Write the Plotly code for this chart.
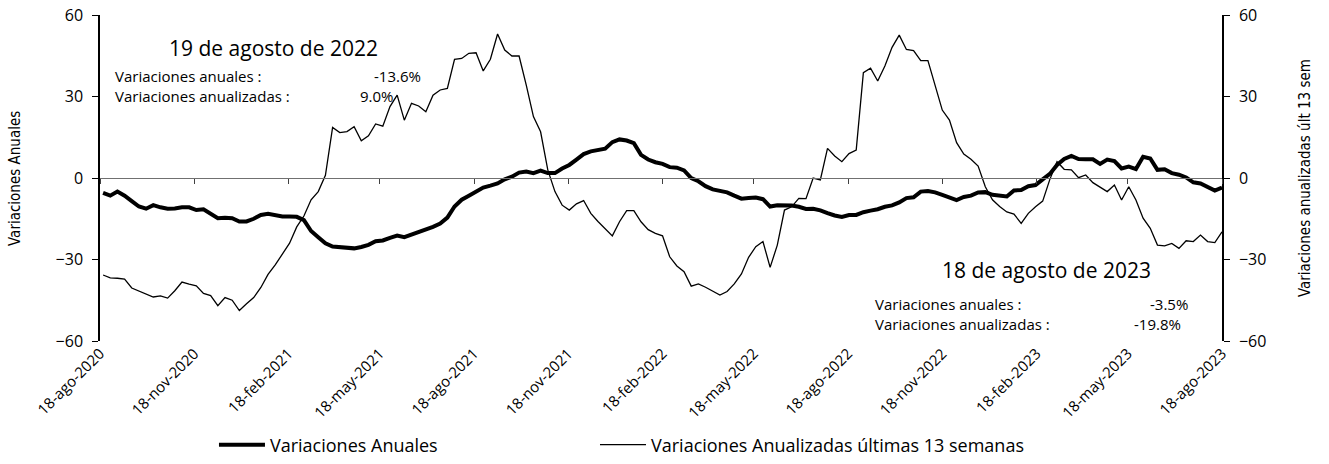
import pandas as pd
import plotly.graph_objects as go

# ---------------- data ----------------
start_date = "2020-08-21"   # first weekly observation (Fridays)
n_weeks = 157

variaciones_anuales = [
    -5.5, -6.5, -5.0, -6.5, -8.5, -10.5, -11.3, -10.0, -10.8, -11.3,
    -11.2, -10.8, -10.8, -11.8, -11.5, -13.0, -14.8, -14.6, -14.8, -16.0,
    -16.0, -15.0, -13.6, -13.2, -13.8, -14.2, -14.2, -14.3, -15.5, -19.5,
    -21.8, -24.0, -25.2, -25.4, -25.8, -25.9, -25.4, -24.6, -23.3, -23.0,
    -22.0, -21.2, -21.8, -20.8, -20.0, -19.2, -18.0, -16.8, -14.6, -10.5,
    -8.0, -6.5, -5.0, -3.5, -2.8, -2.0, -0.5, 0.5, 2.0, 2.4,
    1.8, 2.7, 1.8, 1.8, 3.5, 4.8, 6.8, 8.8, 9.8, 10.3,
    10.8, 13.2, 14.2, 13.8, 12.8, 8.5, 6.8, 5.8, 5.2, 4.0,
    3.8, 2.8, 0.0, -1.2, -3.0, -4.2, -4.8, -5.3, -6.5, -7.6,
    -7.4, -7.2, -7.8, -10.5, -10.0, -9.9, -10.1, -10.6, -11.4, -11.3,
    -11.9, -12.9, -13.8, -14.3, -13.6, -13.6, -12.6, -12.0, -11.5, -10.6,
    -10.1, -9.0, -7.4, -7.1, -5.0, -4.8, -5.3, -6.2, -7.2, -8.1,
    -7.0, -6.5, -5.3, -5.2, -6.2, -6.5, -6.8, -4.6, -4.4, -3.0,
    -2.6, -0.5, 1.5, 4.8, 7.0, 8.1, 7.0, 6.9, 6.9, 5.2,
    6.8, 6.2, 3.5, 4.2, 3.3, 7.8, 7.2, 3.0, 3.2, 1.8,
    1.2, 0.2, -1.6, -2.0, -3.2, -4.6, -3.5,
]

variaciones_anualizadas = [
    -35.7, -36.8, -36.9, -37.2, -40.5, -41.6, -42.5, -43.8, -43.4, -44.2,
    -41.5, -38.3, -39.1, -39.7, -42.5, -43.3, -47.0, -44.0, -45.0, -48.8,
    -46.3, -44.0, -40.3, -35.5, -32.0, -28.0, -24.0, -18.0, -14.0, -8.0,
    -5.0, 1.0, 18.6, 16.7, 17.1, 18.9, 13.7, 15.5, 19.9, 19.1,
    26.3, 30.5, 21.3, 27.5, 26.5, 24.4, 30.5, 32.4, 33.0, 43.7,
    44.0, 45.9, 46.1, 39.4, 43.7, 53.0, 47.1, 44.9, 44.9, 34.2,
    22.6, 17.0, 3.0, -5.0, -10.0, -11.8, -9.5, -8.3, -13.0, -16.0,
    -18.5, -21.3, -16.1, -12.0, -12.0, -16.1, -19.0, -20.4, -21.3, -29.0,
    -32.4, -34.5, -39.8, -39.0, -40.2, -41.8, -43.1, -41.8, -39.0, -35.3,
    -29.2, -25.3, -23.4, -32.9, -24.7, -11.8, -10.6, -7.5, -7.6, 0.0,
    -0.7, 10.9, 8.1, 6.0, 9.0, 10.3, 38.8, 40.4, 35.7, 41.2,
    48.1, 52.6, 47.3, 46.9, 43.2, 43.2, 34.2, 25.0, 21.3, 13.0,
    8.8, 6.9, 4.4, -3.2, -8.0, -10.5, -12.5, -13.3, -16.7, -13.0,
    -10.6, -8.5, -0.5, 6.0, 3.2, 3.0, 0.1, 1.1, -1.7, -3.2,
    -5.0, -2.6, -8.1, -3.2, -8.1, -14.8, -18.5, -24.7, -25.0, -24.1,
    -25.9, -23.1, -23.4, -21.0, -23.4, -23.8, -19.8,
]

tick_dates = ["2020-08-18", "2020-11-18", "2021-02-18", "2021-05-18", "2021-08-18",
              "2021-11-18", "2022-02-18", "2022-05-18", "2022-08-18", "2022-11-18",
              "2023-02-18", "2023-05-18", "2023-08-18"]
tick_labels = ["18-ago-2020", "18-nov-2020", "18-feb-2021", "18-may-2021", "18-ago-2021",
               "18-nov-2021", "18-feb-2022", "18-may-2022", "18-ago-2022", "18-nov-2022",
               "18-feb-2023", "18-may-2023", "18-ago-2023"]
y_ticks = [-60, -30, 0, 30, 60]

name_anual = "Variaciones Anuales"
name_anualizada = "Variaciones Anualizadas últimas 13 semanas"

box1_title = "19 de agosto de 2022"
box1_anual = "-13.6%"
box1_anualizada = "9.0%"
box2_title = "18 de agosto de 2023"
box2_anual = "-3.5%"
box2_anualizada = "-19.8%"

# ---------------- figure ----------------
dates = pd.date_range(start=start_date, periods=n_weeks, freq="7D")
x_range = [tick_dates[0], tick_dates[-1]]

FONT = "Open Sans, Lato, DejaVu Sans, sans-serif"
NARROW = "Liberation Sans Narrow, DejaVu Sans Condensed, Roboto Condensed, sans-serif"

fig = go.Figure()
fig.add_trace(go.Scatter(x=dates, y=variaciones_anuales, name=name_anual,
                         mode="lines", line=dict(color="black", width=4),
                         xaxis="x", yaxis="y", legend="legend"))
fig.add_trace(go.Scatter(x=dates, y=variaciones_anualizadas, name=name_anualizada,
                         mode="lines", line=dict(color="black", width=1.3),
                         xaxis="x", yaxis="y2", legend="legend2"))
# invisible helper trace so the zero-crossing axis is drawn
fig.add_trace(go.Scatter(x=dates, y=variaciones_anuales, mode="lines",
                         line=dict(color="rgba(0,0,0,0)", width=0),
                         showlegend=False, hoverinfo="skip",
                         xaxis="x2", yaxis="y"))

legend_common = dict(orientation="h", xref="container", yref="container",
                     yanchor="middle", y=0.041, xanchor="left",
                     font=dict(size=18, family=FONT), itemwidth=46,
                     bgcolor="rgba(0,0,0,0)")

fig.update_layout(
    width=1329, height=464,
    margin=dict(l=100, r=107, t=15, b=123),
    paper_bgcolor="white", plot_bgcolor="white",
    font=dict(family=FONT, color="black", size=14),
    xaxis=dict(type="date", range=x_range, tickvals=tick_dates, ticktext=tick_labels,
               tickangle=-45, showline=False, ticks="", showgrid=False, zeroline=False,
               tickfont=dict(size=15, family=FONT), automargin=False),
    xaxis2=dict(type="date", range=x_range, overlaying="x", anchor="free", position=0.5,
                tickvals=tick_dates, showticklabels=False, showline=True,
                linecolor="#707070", linewidth=1.2, ticks="outside", ticklen=5,
                tickcolor="#404040", showgrid=False, zeroline=False, automargin=False),
    yaxis=dict(range=[-60, 60], tickvals=y_ticks, showline=True, linecolor="black",
               linewidth=1.5, ticks="outside", ticklen=6, tickcolor="black",
               showgrid=False, zeroline=False, tickfont=dict(size=16), ticklabelstandoff=6,
               automargin=False, ticklabeloverflow="allow"),
    yaxis2=dict(range=[-60, 60], tickvals=y_ticks, overlaying="y", side="right",
                showline=True, linecolor="black", linewidth=1.5, ticks="outside",
                ticklen=6, tickcolor="black", showgrid=False, zeroline=False,
                tickfont=dict(size=16), ticklabelstandoff=6, automargin=False,
                ticklabeloverflow="allow"),
    legend=dict(x=0.161, **legend_common),
    legend2=dict(x=0.4477, **legend_common),
    showlegend=True,
)

ann = []
# axis titles
ann.append(dict(text="Variaciones Anuales", xref="paper", yref="paper", x=-0.0758, y=0.5,
                xanchor="center", yanchor="middle",
                textangle=-90, showarrow=False, font=dict(size=15, family=NARROW)))
ann.append(dict(text="Variaciones anualizadas últ 13 sem", xref="paper", yref="paper",
                x=1.074, y=0.5, xanchor="center", yanchor="middle", textangle=-90,
                showarrow=False, font=dict(size=15, family=NARROW)))


def add_text(text, x, y, anchor, size):
    ann.append(dict(text=text, xref="paper", yref="paper", x=x, y=y, xanchor=anchor,
                    yanchor="middle", showarrow=False, font=dict(size=size)))


# info boxes
add_text(box1_title, 0.155, 0.899, "center", 21)
add_text("Variaciones anuales :", 0.0116, 0.813, "left", 15)
add_text(box1_anual, 0.288, 0.813, "right", 15)
add_text("Variaciones anualizadas :", 0.0116, 0.752, "left", 15)
add_text(box1_anualizada, 0.264, 0.752, "right", 15)
add_text(box2_title, 0.844, 0.218, "center", 21)
add_text("Variaciones anuales :", 0.689, 0.113, "left", 15)
add_text(box2_anual, 0.9715, 0.113, "right", 15)
add_text("Variaciones anualizadas :", 0.689, 0.052, "left", 15)
add_text(box2_anualizada, 0.965, 0.052, "right", 15)
fig.update_layout(annotations=ann)

# remove the default page margin so the figure sits at the window's top-left corner
fig.write_html("out.html", config={"displayModeBar": False},
               post_script="document.body.style.margin='0';document.body.style.overflow='hidden';")
